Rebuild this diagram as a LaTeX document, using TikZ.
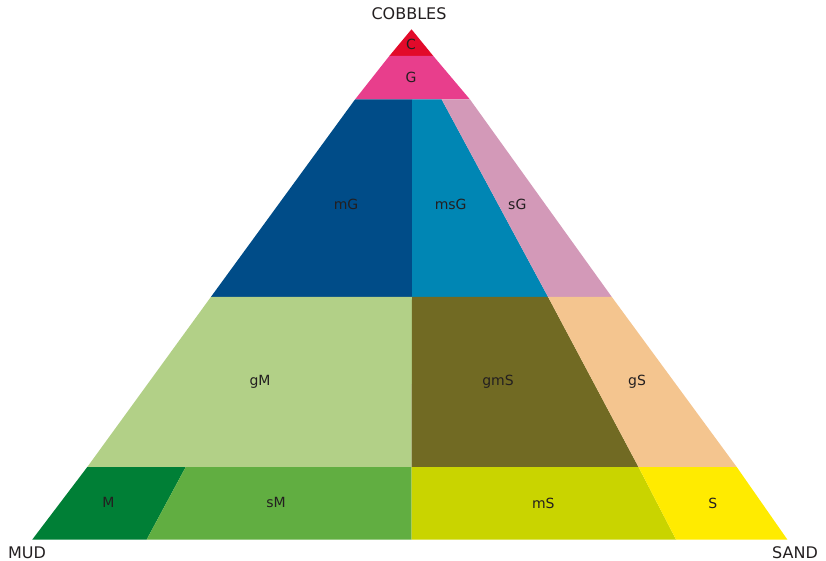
\documentclass[tikz,border=0pt]{standalone}
\usepackage{fontspec}
\setmainfont{DejaVu Sans}
\usetikzlibrary{positioning}

\definecolor{colC}{HTML}{E20A2A}
\definecolor{colG}{HTML}{E83E8C}
\definecolor{colmG}{HTML}{004C88}
\definecolor{colmsG}{HTML}{0086B4}
\definecolor{colsG}{HTML}{D399B8}
\definecolor{colgM}{HTML}{B2D087}
\definecolor{colgmS}{HTML}{716A23}
\definecolor{colgS}{HTML}{F4C58F}
\definecolor{colM}{HTML}{007F36}
\definecolor{colsM}{HTML}{61AE41}
\definecolor{colmS}{HTML}{C9D400}
\definecolor{colS}{HTML}{FFEB00}
\definecolor{txtgray}{HTML}{231F20}

\begin{document}
\begin{tikzpicture}[
      x=1pt, y=-1pt,
      cell/.style={font=\fontsize{14}{16}\selectfont, text=txtgray, inner sep=0pt},
      corner/.style={font=\fontsize{16}{18}\selectfont, text=txtgray, inner sep=0pt}
    ]
        \useasboundingbox (0,0) rectangle (826,561);
        % outline of the triangle, level by level
        \coordinate (top) at (411.5,29.3);
        \coordinate (L1) at (389.3,56);   \coordinate (R1) at (433.3,56);
        \coordinate (L2) at (355,99.5);   \coordinate (R2) at (470,99.5);
        \coordinate (L3) at (211,296.8);  \coordinate (R3) at (611.7,296.8);
        \coordinate (L4) at (87.3,467);   \coordinate (R4) at (736.7,467);
        \coordinate (L5) at (32.3,539.5); \coordinate (R5) at (787.3,539.5);
        % inner dividers
        \coordinate (M2) at (412,99.5);   \coordinate (D2) at (441.7,99.5);
        \coordinate (M3) at (412,296.8);  \coordinate (D3) at (548,296.8);
        \coordinate (M4) at (411.5,467);  \coordinate (D4) at (638.5,467);
        \coordinate (M5) at (411.5,539.5);\coordinate (D5) at (676,539.5);
        \coordinate (E4) at (185.7,467);  \coordinate (E5) at (146.7,539.5);

        \fill[colC] (top) -- (R1) -- (L1) -- cycle;
        \fill[colG] (L1) -- (R1) -- (R2) -- (L2) -- cycle;
        \fill[colmG] (L2) -- (M2) -- (M3) -- (L3) -- cycle;
        \fill[colmsG] (M2) -- (D2) -- (D3) -- (M3) -- cycle;
        \fill[colsG] (D2) -- (R2) -- (R3) -- (D3) -- cycle;
        \fill[colgM] (L3) -- (M3) -- (M4) -- (L4) -- cycle;
        \fill[colgmS] (M3) -- (D3) -- (D4) -- (M4) -- cycle;
        \fill[colgS] (D3) -- (R3) -- (R4) -- (D4) -- cycle;
        \fill[colM] (L4) -- (E4) -- (E5) -- (L5) -- cycle;
        \fill[colsM] (E4) -- (M4) -- (M5) -- (E5) -- cycle;
        \fill[colmS] (M4) -- (D4) -- (D5) -- (M5) -- cycle;
        \fill[colS] (D4) -- (R4) -- (R5) -- (D5) -- cycle;

        % labels
        \node[corner] (cobbles) at (409,14) {COBBLES};
        \node[corner] (mud) at (27,552.5) {MUD};
        \node[corner] (sand) at (795,552.5) {SAND};
        \node[cell] (c) at (411,44) {C};
        \node[cell] (g) at (411,77) {G};
        \node[cell] (mg) at (346,204) {mG};
        \node[cell] (msg) at (450.7,204) {msG};
        \node[cell] (sg) at (517.3,204) {sG};
        \node[cell] (gm) at (260,382) {gM};
        \node[cell] (gms) at (498,382) {gmS};
        \node[cell] (gs) at (637,382) {gS};
        \node[cell] (m) at (108.3,502.7) {M};
        \node[cell] (sm) at (276,502.7) {sM};
        \node[cell] (ms) at (543.3,503) {mS};
        \node[cell] (s) at (712.7,503) {S};
    \end{tikzpicture}
\end{document}
